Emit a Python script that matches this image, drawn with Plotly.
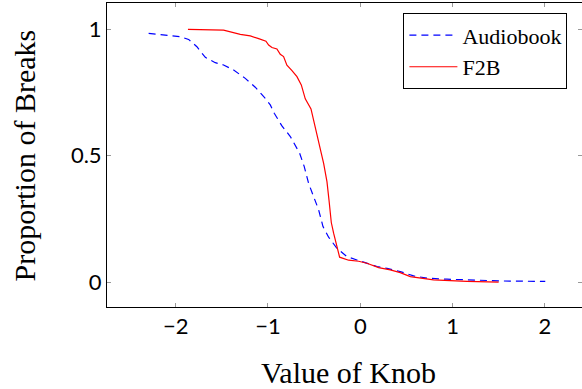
import plotly.graph_objects as go

audio_x = [-2.293, -1.950, -1.860, -1.770, -1.679, -1.571, -1.481, -1.372, -1.246, -1.138,
           -1.029, -0.975, -0.932, -0.849, -0.758, -0.657, -0.607, -0.560, -0.506, -0.451,
           -0.404, -0.343, -0.253, -0.144, -0.036, 0.072, 0.181, 0.289, 0.433, 0.578,
           0.722, 0.939, 1.156, 1.517, 2.004]
audio_y = [0.984, 0.971, 0.960, 0.931, 0.889, 0.868, 0.859, 0.839, 0.806, 0.771,
           0.727, 0.701, 0.668, 0.618, 0.576, 0.510, 0.457, 0.391, 0.339, 0.286,
           0.220, 0.178, 0.134, 0.101, 0.088, 0.075, 0.062, 0.055, 0.042, 0.025,
           0.016, 0.012, 0.009, 0.005, 0.003]

f2b_x = [-1.867, -1.481, -1.300, -1.192, -1.101, -1.022, -0.993, -0.957, -0.903, -0.867,
         -0.831, -0.795, -0.740, -0.686, -0.639, -0.596, -0.534, -0.488, -0.451, -0.423,
         -0.397, -0.361, -0.339, -0.314, -0.289, -0.253, -0.224, -0.126, -0.018, 0.072,
         0.199, 0.325, 0.433, 0.542, 0.668, 0.794, 1.156, 1.499]
f2b_y = [1.000, 0.997, 0.980, 0.974, 0.963, 0.953, 0.938, 0.928, 0.922, 0.901,
         0.892, 0.858, 0.837, 0.813, 0.780, 0.725, 0.685, 0.609, 0.543, 0.510,
         0.470, 0.398, 0.325, 0.236, 0.194, 0.134, 0.099, 0.087, 0.083, 0.075,
         0.058, 0.049, 0.038, 0.022, 0.014, 0.009, 0.003, 0.000]

x_ticks = [-2, -1, 0, 1, 2]
y_ticks = [0, 0.5, 1]
y_tick_labels = ["0", "0.5", "1"]
x_title = "Value of Knob"
y_title = "Proportion of Breaks"

serif = "Liberation Serif"
sans = "Lato"

fig = go.Figure()
fig.add_trace(go.Scatter(x=audio_x, y=audio_y, mode="lines", name="Audiobook",
                         line=dict(color="blue", width=1.2, dash="7px,5px")))
fig.add_trace(go.Scatter(x=f2b_x, y=f2b_y, mode="lines", name="F2B",
                         line=dict(color="red", width=1.2)))

fig.update_layout(
    width=582, height=389,
    margin=dict(l=107, r=0, t=3, b=82, autoexpand=False),
    paper_bgcolor="white", plot_bgcolor="white",
    showlegend=True,
    legend=dict(x=0.624, y=0.966, xanchor="left", yanchor="top",
                bgcolor="white", bordercolor="black", borderwidth=1,
                font=dict(family=serif, size=22, color="black"),
                itemwidth=48, tracegroupgap=0),
    xaxis=dict(range=[-2.744, 2.402], tickvals=x_ticks, automargin=False,
               showgrid=False, zeroline=False,
               showline=True, linecolor="black", linewidth=1, mirror="ticks",
               ticks="inside", ticklen=4, tickcolor="#999999", tickwidth=1,
               tickfont=dict(family=sans, size=22, color="black")),
    yaxis=dict(range=[-0.098, 1.104], tickvals=y_ticks, ticktext=y_tick_labels,
               automargin=False,
               showgrid=False, zeroline=False,
               showline=True, linecolor="black", linewidth=1, mirror="ticks",
               ticks="inside", ticklen=4, tickcolor="#999999", tickwidth=1,
               tickfont=dict(family=sans, size=22, color="black")),
    annotations=[
        dict(text=x_title, xref="paper", yref="paper", x=0.509, y=-0.214,
             xanchor="center", yanchor="middle", showarrow=False,
             font=dict(family=serif, size=30, color="black")),
        dict(text=y_title, xref="paper", yref="paper", x=-0.173, y=0.498,
             xanchor="center", yanchor="middle", showarrow=False, textangle=-90,
             font=dict(family=serif, size=30, color="black")),
    ],
)

fig.write_html("out.html", config={"displayModeBar": False},
               post_script="document.body.style.margin='0';document.body.style.overflow='hidden';")
